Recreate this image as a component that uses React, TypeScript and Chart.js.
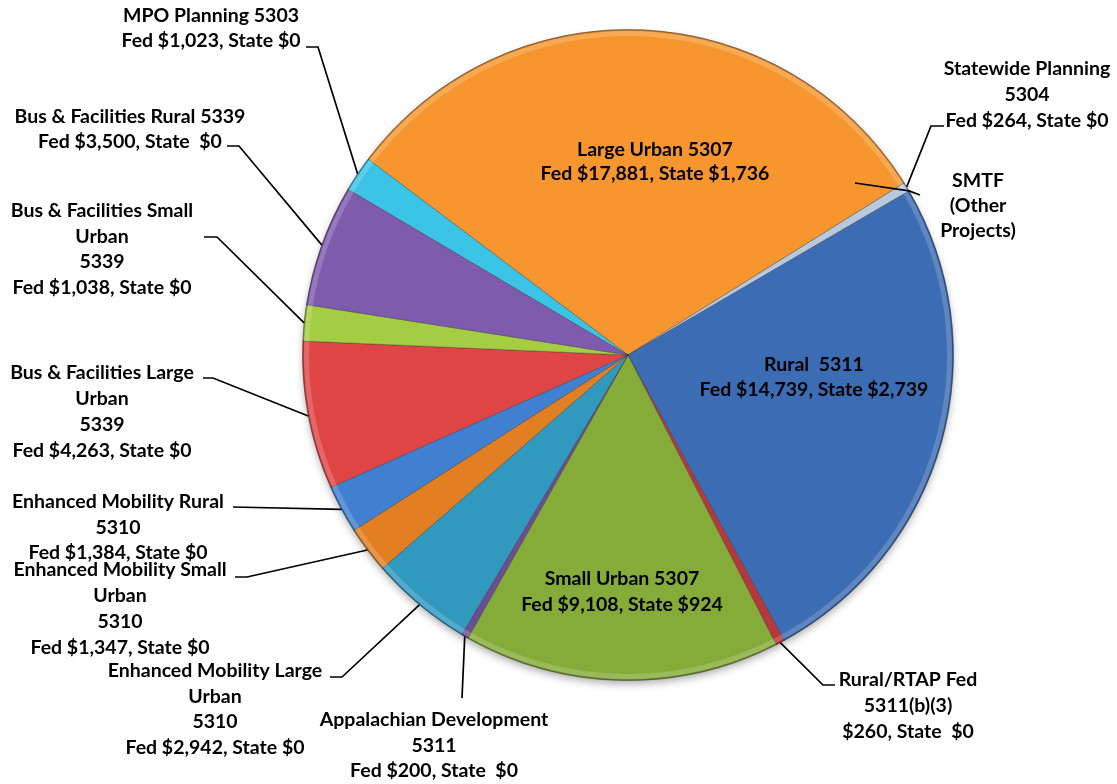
import React, { useEffect, useRef } from "react";
import { Chart, registerables } from "chart.js";

Chart.register(...registerables);

// ---- data (clockwise from the top-left boundary) ----
const categories = [
  "Large Urban 5307",
  "Statewide Planning 5304",
  "SMTF (Other Projects)",
  "Rural 5311",
  "Rural/RTAP 5311(b)(3)",
  "Small Urban 5307",
  "Appalachian Development 5311",
  "Enhanced Mobility Large Urban 5310",
  "Enhanced Mobility Small Urban 5310",
  "Enhanced Mobility Rural 5310",
  "Bus & Facilities Large Urban 5339",
  "Bus & Facilities Small Urban 5339",
  "Bus & Facilities Rural 5339",
  "MPO Planning 5303",
];
const fedValues = [17881, 264, 0, 14739, 260, 9108, 200, 2942, 1347, 1384, 4263, 1038, 3500, 1023];
const stateValues = [1736, 0, 0, 2739, 0, 924, 0, 0, 0, 0, 0, 0, 0, 0];

const labelLines: string[][] = [
  ["Large Urban 5307", "Fed $17,881, State $1,736"],
  ["Statewide Planning", "5304", "Fed $264, State $0"],
  ["SMTF", "(Other", "Projects)"],
  ["Rural  5311", "Fed $14,739, State $2,739"],
  ["Rural/RTAP Fed", "5311(b)(3)", "$260, State  $0"],
  ["Small Urban 5307", "Fed $9,108, State $924"],
  ["Appalachian Development", "5311", "Fed $200, State  $0"],
  ["Enhanced Mobility Large", "Urban", "5310", "Fed $2,942, State $0"],
  ["Enhanced Mobility Small", "Urban", "5310", "Fed $1,347, State $0"],
  ["Enhanced Mobility Rural", "5310", "Fed $1,384, State $0"],
  ["Bus & Facilities Large", "Urban", "5339", "Fed $4,263, State $0"],
  ["Bus & Facilities Small", "Urban", "5339", "Fed $1,038, State $0"],
  ["Bus & Facilities Rural 5339", "Fed $3,500, State  $0"],
  ["MPO Planning 5303", "Fed $1,023, State $0"],
];

// ---- styles / layout ----
const sliceColors = [
  "#F7962F",
  "#B9CADF",
  "#D9D9D9",
  "#3B6CB4",
  "#B8373A",
  "#85AB39",
  "#6A4D96",
  "#3198BE",
  "#E17F22",
  "#3F80D0",
  "#DF4545",
  "#A5CD43",
  "#7F5BAE",
  "#3CC4E6",
];

type LabelLayout = { x: number; y: number; lh: number; pre?: number[]; pts?: number[][] };
const labelLayout: LabelLayout[] = [
  { x: 655, y: 148.5, lh: 24 },
  { x: 1027, y: 68, lh: 26, pts: [[931, 126], [944, 126]] },
  { x: 978, y: 180, lh: 25, pre: [855, 183], pts: [[920, 195]] },
  { x: 814, y: 364, lh: 25 },
  { x: 908, y: 679, lh: 26, pts: [[823, 685], [835, 685]] },
  { x: 622, y: 578, lh: 26 },
  { x: 434, y: 719, lh: 25.5, pts: [[462, 698]] },
  { x: 215, y: 670, lh: 25.7, pts: [[342, 677], [330, 677]] },
  { x: 120, y: 569, lh: 26, pts: [[247, 577], [235, 577]] },
  { x: 118, y: 501, lh: 25.5, pts: [[233, 507]] },
  { x: 102, y: 372, lh: 26, pts: [[213, 378], [203, 378]] },
  { x: 102, y: 210, lh: 25.7, pts: [[217, 237], [204, 237]] },
  { x: 130, y: 115.5, lh: 25.5, pts: [[239, 146], [227, 146]] },
  { x: 211, y: 15, lh: 25, pts: [[318, 47], [306, 47]] },
];

const FONT = "bold 19.5px Lato, 'Open Sans', sans-serif";

const shadowPlugin = {
  id: "pieShadow",
  beforeDatasetsDraw(chart: any) {
    const meta = chart.getDatasetMeta(0);
    const arc = meta.data[0];
    if (!arc) return;
    const { x, y, outerRadius } = arc.getProps(["x", "y", "outerRadius"], true);
    const ctx = chart.ctx;
    ctx.save();
    ctx.shadowColor = "rgba(0,0,0,0.35)";
    ctx.shadowBlur = 8;
    ctx.shadowOffsetY = 4;
    ctx.beginPath();
    ctx.arc(x, y, outerRadius - 1, 0, Math.PI * 2);
    ctx.fillStyle = "#ffffff";
    ctx.fill();
    ctx.restore();
  },
  afterDatasetsDraw(chart: any) {
    const meta = chart.getDatasetMeta(0);
    const arc = meta.data[0];
    if (!arc) return;
    const { x, y, outerRadius } = arc.getProps(["x", "y", "outerRadius"], true);
    const ctx = chart.ctx;
    ctx.save();
    // soft bevel highlight inside the rim
    ctx.beginPath();
    ctx.arc(x, y, outerRadius - 4, 0, Math.PI * 2);
    ctx.strokeStyle = "rgba(255,255,255,0.18)";
    ctx.lineWidth = 5;
    ctx.stroke();
    ctx.beginPath();
    ctx.arc(x, y, outerRadius - 0.5, 0, Math.PI * 2);
    ctx.strokeStyle = "rgba(0,0,0,0.25)";
    ctx.lineWidth = 1.5;
    ctx.stroke();
    ctx.restore();
  },
};

const labelPlugin = {
  id: "pieLabels",
  afterDraw(chart: any) {
    const ctx = chart.ctx;
    const meta = chart.getDatasetMeta(0);
    ctx.save();
    meta.data.forEach((arc: any, i: number) => {
      const lay = labelLayout[i];
      const lines = labelLines[i];
      if (!lay || !lines) return;
      const { x, y, startAngle, endAngle, outerRadius } = arc.getProps(
        ["x", "y", "startAngle", "endAngle", "outerRadius"],
        true
      );
      const mid = (startAngle + endAngle) / 2;
      const px = x + Math.cos(mid) * outerRadius;
      const py = y + Math.sin(mid) * outerRadius;
      if (lay.pts) {
        ctx.beginPath();
        ctx.strokeStyle = "#000000";
        ctx.lineWidth = 1.7;
        if (lay.pre) {
          ctx.moveTo(lay.pre[0], lay.pre[1]);
          ctx.lineTo(px, py);
        } else {
          ctx.moveTo(px, py);
        }
        lay.pts.forEach((p) => ctx.lineTo(p[0], p[1]));
        ctx.stroke();
      }
      ctx.font = FONT;
      ctx.fillStyle = "#000000";
      ctx.textAlign = "center";
      ctx.textBaseline = "alphabetic";
      lines.forEach((t, k) => {
        ctx.fillText(t, lay.x, lay.y + 7 + k * lay.lh);
      });
    });
    ctx.restore();
  },
};

export default function App() {
  const ref = useRef<HTMLCanvasElement | null>(null);
  useEffect(() => {
    document.body.style.margin = "0";
    if (!ref.current) return;
    const chart = new Chart(ref.current, {
      type: "pie",
      data: {
        labels: categories,
        datasets: [
          {
            data: fedValues,
            backgroundColor: sliceColors,
            borderColor: "rgba(40,40,40,0.35)",
            borderWidth: 1,
          },
        ],
      },
      options: {
        responsive: false,
        animation: false,
        rotation: -53,
        layout: { padding: { left: 302, right: 163, top: 29, bottom: 103 } },
        plugins: {
          legend: { display: false },
          tooltip: { enabled: false },
        },
      },
      plugins: [shadowPlugin, labelPlugin],
    });
    return () => chart.destroy();
  }, []);
  return (
    <div style={{ width: 1117, height: 784, background: "#ffffff" }}>
      <canvas ref={ref} width={1117} height={784} style={{ display: "block" }} />
    </div>
  );
}
